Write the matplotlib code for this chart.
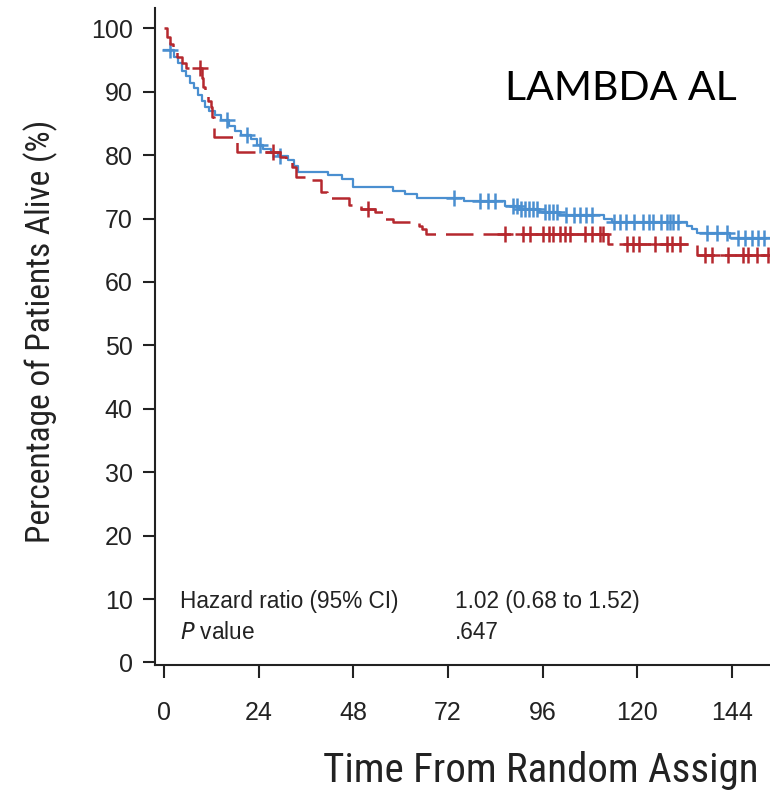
import numpy as np
import matplotlib
matplotlib.use("Agg")
import matplotlib.pyplot as plt

# Curva azul (tiempo en meses, % vivos) - escalones
azul_t = [0, 2.5, 3.5, 4.5, 5.5, 6.5, 7.5, 8.5, 9.5, 10.5, 11.5, 13, 14.5, 16.5,
          18, 19.5, 22, 23.5, 25, 27, 29, 31.5, 33, 34, 41.5, 45, 47.8, 58, 61,
          64, 76, 86.5, 90, 95, 100, 111.5, 113.5, 132.5, 133.8, 135, 143.5]
azul_s = [96.5, 95.5, 94.5, 93.2, 92.4, 91.4, 90.6, 89.5, 88.6, 87.6, 87.0, 86.3,
          85.5, 84.6, 83.8, 83.2, 82.5, 81.6, 81.0, 80.4, 79.8, 79.2, 78.3, 77.3,
          76.9, 76.3, 74.9, 74.3, 73.8, 73.3, 72.7, 71.9, 71.5, 71.0, 70.6, 70.0,
          69.4, 68.9, 68.3, 67.7, 66.9]
azul_cens = [1.5, 16, 21, 24.3, 29.4, 73.5, 80.1, 82, 84, 88.5, 89.5, 90.5, 91.5,
             92.5, 93.5, 94.5, 96.5, 97.5, 98.5, 99.5, 102, 104, 105.5, 107,
             108.5, 114, 115.5, 117, 119, 121.5, 123, 124, 126, 127.5, 128.3,
             129, 130.3, 137.7, 140.2, 142.7, 145.5, 147.3, 149, 150.6, 152]

# Curva roja
rojo_t = [0, 0.8, 1.5, 2.3, 3.2, 4.5, 5.5, 9.5, 9.9, 10.3, 11.2, 11.8, 12.2, 12.6,
          18.5, 29.5, 31, 32.5, 33.5, 37, 39.8, 41.3, 47, 50, 53.5, 55.5, 58, 64.5,
          65.5, 66.5, 112.6, 135.2]
rojo_s = [100, 98.6, 97.5, 96.5, 95.4, 94.6, 93.7, 92.2, 90.7, 89.8, 88.6, 87.6,
          86.0, 82.8, 80.5, 79.7, 79.0, 78.1, 76.5, 76.0, 74.2, 73.2, 72.1, 71.5,
          71.0, 70.0, 69.4, 68.9, 68.3, 67.5, 66.0, 64.2]
rojo_cens = [9.1, 27.6, 51.7, 86.3, 91, 92.8, 96, 97.5, 98.6, 100.4, 101.7, 103,
             106.7, 108.5, 110.5, 111.3, 117.4, 118.8, 120.5, 124.5, 127.5, 128.8,
             130.8, 137, 139, 143, 146.8, 148, 150.4, 153]

xticks = [0, 24, 48, 72, 96, 120, 144]
yticks = list(range(0, 101, 10))

azul = "#4a8fd0"
rojo = "#b5282e"
texto = "#222222"
fuente = ["Liberation Sans", "DejaVu Sans"]
fuente_estrecha = ["Roboto Condensed", "Liberation Sans", "DejaVu Sans"]


def surv_at(t, s, tc):
    idx = np.searchsorted(t, tc, side="right") - 1
    return np.array(s)[idx]


fig = plt.figure(figsize=(7.7, 7.93), dpi=100)
ax = fig.add_axes([155 / 770, 128 / 793, 615 / 770, 657 / 793])

ax.step(azul_t + [160], azul_s + [azul_s[-1]], where="post",
        color=azul, linewidth=1.6)
ax.plot(azul_cens, surv_at(azul_t, azul_s, azul_cens), linestyle="none",
        marker="+", markersize=11, markeredgewidth=1.8, color=azul)

ax.step(rojo_t + [160], rojo_s + [rojo_s[-1]], where="post",
        color=rojo, linewidth=1.8, linestyle=(0, (11, 4)))
ax.plot(rojo_cens, surv_at(rojo_t, rojo_s, rojo_cens), linestyle="none",
        marker="+", markersize=11, markeredgewidth=1.8, color=rojo)

ax.set_xlim(-2.3, 153.6)
ax.set_ylim(-0.4, 103.2)
ax.set_xticks(xticks)
ax.set_yticks(yticks)

for sp in ["top", "right"]:
    ax.spines[sp].set_visible(False)
for sp in ["left", "bottom"]:
    ax.spines[sp].set_linewidth(1.5)
    ax.spines[sp].set_color(texto)

ax.tick_params(axis="both", length=9, width=1.5, color=texto,
               labelsize=18, labelcolor=texto)
ax.tick_params(axis="x", pad=17)
ax.tick_params(axis="y", pad=7)
for lab in ax.get_xticklabels() + ax.get_yticklabels():
    lab.set_family(fuente)

ax.set_ylabel("Percentage of Patients Alive (%)", fontsize=24,
              family=fuente_estrecha, color=texto)
ax.yaxis.set_label_coords(-0.158, 0.508)
ax.set_xlabel("Time From Random Assign", fontsize=29.5,
              family=fuente_estrecha, color=texto, loc="right")
ax.xaxis.set_label_coords(0.981, -0.131)

txt = dict(fontsize=16.3, color=texto, family=fuente, va="center", ha="left")
ax.text(4.0, 9.6, "Hazard ratio (95% CI)", **txt)
ax.text(73.8, 9.6, "1.02 (0.68 to 1.52)", **txt)
ax.text(4.0, 4.7, "$\\it{P}$ value", **txt)
ax.text(73.8, 4.7, ".647", **txt)

fig.text(505 / 770, 1 - 89 / 793, "LAMBDA AL", fontsize=29.5,
         family=["Lato", "DejaVu Sans"], color="black", va="center", ha="left")

fig.savefig("out.png", dpi=100)
